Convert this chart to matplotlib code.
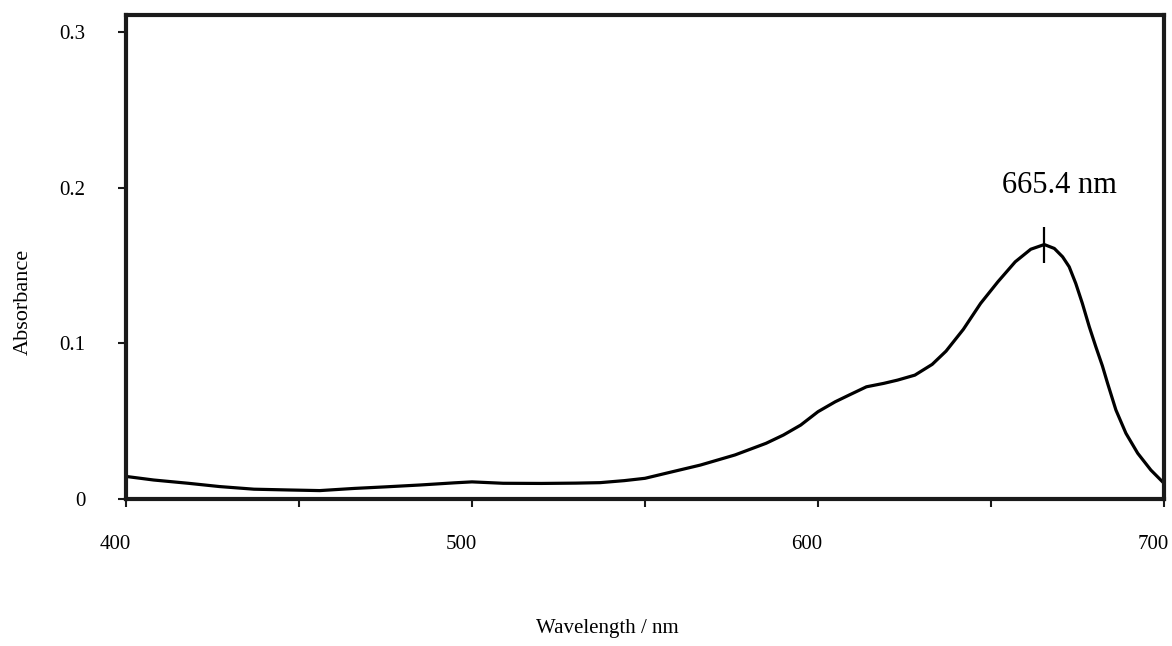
import matplotlib
matplotlib.use("Agg")
import matplotlib.pyplot as plt
import matplotlib.transforms as mtransforms
from matplotlib.ticker import MultipleLocator

plt.rcParams['font.family'] = ['Liberation Serif', 'DejaVu Serif']

# absorption spectrum
wavelength = [400, 408, 418, 427, 437, 447, 456, 466, 475, 485, 495, 500, 509, 520,
              530, 537, 544, 550, 556, 566, 576, 585, 590, 595, 600, 605, 609, 614,
              619, 623, 628, 633, 637, 642, 647, 652, 657, 661.5, 665.4, 668.3, 670.7,
              672.6, 674.5, 676.4, 678.4, 680.3, 682.2, 683.7, 686.1, 689, 692.4,
              696.2, 700]
absorbance = [0.0145, 0.0122, 0.0101, 0.0080, 0.0063, 0.0058, 0.0054, 0.0068, 0.0078,
              0.0090, 0.0104, 0.0110, 0.0101, 0.0100, 0.0102, 0.0105, 0.0118, 0.0133,
              0.0165, 0.0218, 0.0283, 0.0358, 0.0411, 0.0475, 0.0561, 0.0625, 0.0668,
              0.0721, 0.0743, 0.0764, 0.0796, 0.0865, 0.0950, 0.1090, 0.1257, 0.1396,
              0.1524, 0.1605, 0.1635, 0.1610, 0.1556, 0.1492, 0.1385, 0.1257, 0.1107,
              0.0978, 0.0855, 0.0743, 0.0572, 0.0422, 0.0294, 0.0186, 0.0101]

peak_nm = 665.4
peak_abs = 0.1635
peak_label = "665.4 nm"

fig = plt.figure(figsize=(11.72, 6.46), dpi=100)
ax = fig.add_axes([126 / 1172, 1 - 499 / 646, (1164 - 126) / 1172, (499 - 15) / 646])

ax.plot(wavelength, absorbance, color='black', linewidth=2.3, solid_joinstyle='round')
ax.plot([peak_nm], [peak_abs], marker='|', markersize=26, markeredgewidth=1.6, color='black')
ax.annotate(peak_label, xy=(peak_nm, peak_abs), xytext=(11, 37), textcoords='offset points',
            ha='center', va='baseline', fontsize=22)

ax.set_xlim(400, 700)
ax.set_ylim(0, 0.311)
ax.xaxis.set_major_locator(MultipleLocator(100))
ax.xaxis.set_minor_locator(MultipleLocator(50))
ax.set_yticks([0, 0.1, 0.2, 0.3])
ax.set_yticklabels(['0', '0.1', '0.2', '0.3'])

for side in ['left', 'right', 'top', 'bottom']:
    ax.spines[side].set_linewidth(3)
    ax.spines[side].set_color('#1a1a1a')

ax.tick_params(axis='both', which='both', direction='out', length=6, width=1.5, color='#1a1a1a')
ax.tick_params(axis='x', which='major', pad=20, labelsize=15)
ax.tick_params(axis='y', which='major', pad=23, labelsize=15)

# tick labels on the x axis sit a bit left of their ticks
offset = mtransforms.ScaledTranslation(-11 / 100, 0, fig.dpi_scale_trans)
for lbl in ax.get_xticklabels():
    lbl.set_transform(lbl.get_transform() + offset)

fig.text(607 / 1172, 1 - 628 / 646, "Wavelength / nm", ha='center', va='center', fontsize=15)
fig.text(23 / 1172, 1 - 302 / 646, "Absorbance", ha='center', va='center', rotation=90, fontsize=16)

fig.savefig("out.png", dpi=100)
